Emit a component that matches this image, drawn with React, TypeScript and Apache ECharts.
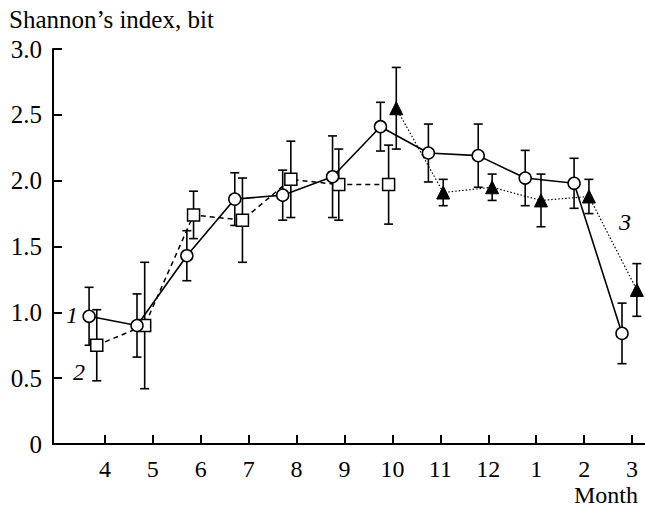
import React, { useEffect, useRef } from "react";
import * as echarts from "echarts";

const tickPositions = [4, 5, 6, 7, 8, 9, 10, 11, 12, 13, 14, 15];
const monthLabels = ["4", "5", "6", "7", "8", "9", "10", "11", "12", "1", "2", "3"];

const s1X = [3.67, 4.67, 5.71, 6.71, 7.71, 8.75, 9.75, 10.75, 11.79, 12.77, 13.79, 14.79];
const s1Y = [0.97, 0.9, 1.43, 1.86, 1.89, 2.03, 2.41, 2.21, 2.19, 2.02, 1.98, 0.84];
const s1Err = [0.22, 0.24, 0.19, 0.2, 0.19, 0.31, 0.185, 0.22, 0.24, 0.21, 0.19, 0.23];

const s2X = [3.83, 4.83, 5.85, 6.87, 7.88, 8.88, 9.92];
const s2Y = [0.75, 0.9, 1.74, 1.7, 2.01, 1.97, 1.97];
const s2Err = [0.27, 0.48, 0.18, 0.32, 0.29, 0.27, 0.3];

const s3X = [10.08, 11.06, 12.08, 13.1, 14.1, 15.1];
const s3Y = [2.55, 1.91, 1.95, 1.85, 1.88, 1.17];
const s3Err = [0.31, 0.1, 0.1, 0.2, 0.13, 0.2];

const FONT = "Liberation Serif";
const FS = 24;
const TITLE_FS = 25;

function errSeries(xs: number[], ys: number[], es: number[]) {
  return {
    type: "custom",
    z: 1,
    clip: false,
    data: xs.map((x, i) => [x, ys[i], es[i]]),
    encode: { x: 0, y: 1 },
    renderItem: (params: any, api: any) => {
      const x = api.value(0);
      const y = api.value(1);
      const e = api.value(2);
      const t = api.coord([x, y + e]);
      const b = api.coord([x, y - e]);
      const w = 4.5;
      const st = { stroke: "#000", lineWidth: 1.6 };
      return {
        type: "group",
        children: [
          { type: "line", shape: { x1: t[0], y1: t[1], x2: b[0], y2: b[1] }, style: st },
          { type: "line", shape: { x1: t[0] - w, y1: t[1], x2: t[0] + w, y2: t[1] }, style: st },
          { type: "line", shape: { x1: b[0] - w, y1: b[1], x2: b[0] + w, y2: b[1] }, style: st },
        ],
      };
    },
  };
}

export default function App() {
  const ref = useRef<HTMLDivElement>(null);
  useEffect(() => {
    if (!ref.current) return;
    const chart = echarts.init(ref.current, null, { renderer: "svg" });
    const axisText = { fontFamily: FONT, fontSize: FS, color: "#000" };
    const txt = (text: string, x: number, y: number, align: string, size: number, italic = false) => ({
      type: "text",
      x,
      y,
      style: { text, fontFamily: FONT, fontSize: size, fontStyle: italic ? "italic" : "normal", fill: "#000", align, verticalAlign: "middle" },
    });
    chart.setOption({
      animation: false,
      backgroundColor: "#fff",
      grid: { left: 53, right: 0, top: 49, bottom: 64, containLabel: false },
      xAxis: {
        type: "value",
        min: 2.917,
        max: 15.27,
        axisLine: { lineStyle: { color: "#000", width: 2 } },
        axisTick: { show: true, inside: true, length: 9, lineStyle: { color: "#000", width: 2 }, customValues: tickPositions },
        axisLabel: {
          ...axisText,
          margin: 13,
          customValues: tickPositions,
          formatter: (v: number) => monthLabels[tickPositions.indexOf(Math.round(v))] ?? "",
        },
        splitLine: { show: false },
      },
      yAxis: {
        type: "value",
        min: 0,
        max: 3,
        interval: 0.5,
        axisLine: { show: true, lineStyle: { color: "#000", width: 2 } },
        axisTick: { show: true, inside: true, length: 9, lineStyle: { color: "#000", width: 2 } },
        axisLabel: { ...axisText, fontSize: 25, margin: 11, formatter: (v: number) => (v === 0 ? "0" : v.toFixed(1)) },
        splitLine: { show: false },
      },
      graphic: [
        txt("Shannon\u2019s index, bit", 9, 19, "left", TITLE_FS),
        txt("Month", 638, 495, "right", FS),
        txt("1", 72, 315, "center", FS, true),
        txt("2", 79, 372, "center", FS, true),
        txt("3", 625, 222, "center", FS, true),
      ],
      series: [
        errSeries(s1X, s1Y, s1Err),
        errSeries(s2X, s2Y, s2Err),
        errSeries(s3X, s3Y, s3Err),
        {
          type: "line",
          z: 3,
          data: s2X.map((x, i) => [x, s2Y[i]]),
          symbol: "rect",
          symbolSize: 12,
          lineStyle: { color: "#000", width: 1.5, type: [5, 4] },
          itemStyle: { color: "#fff", borderColor: "#000", borderWidth: 1.5 },
        },
        {
          type: "line",
          z: 3,
          clip: false,
          data: s3X.map((x, i) => [x, s3Y[i]]),
          symbol: "triangle",
          symbolSize: 13,
          lineStyle: { color: "#000", width: 1.2, type: [1.5, 2] },
          itemStyle: { color: "#000", borderColor: "#000", borderWidth: 1 },
        },
        {
          type: "line",
          z: 4,
          data: s1X.map((x, i) => [x, s1Y[i]]),
          symbol: "circle",
          symbolSize: 12,
          lineStyle: { color: "#000", width: 1.6 },
          itemStyle: { color: "#fff", borderColor: "#000", borderWidth: 1.5 },
        },
      ],
    });
    return () => chart.dispose();
  }, []);
  return <div ref={ref} style={{ position: "fixed", left: 0, top: 0, width: 645, height: 508 }} />;
}
